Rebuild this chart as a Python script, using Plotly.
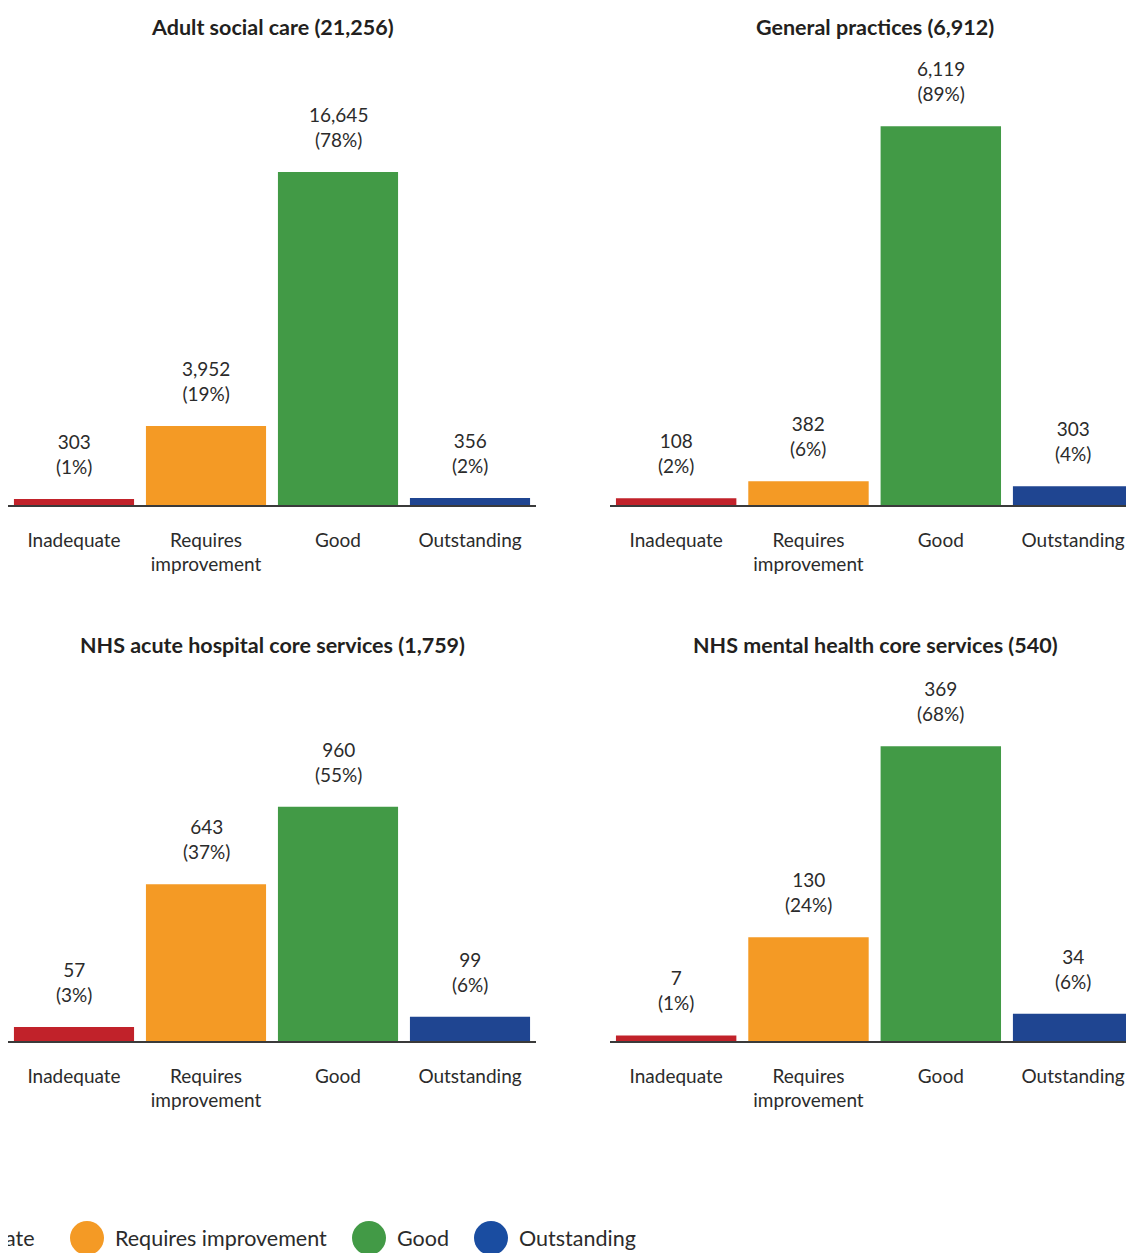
import plotly.graph_objects as go

# The page body has an 8px margin; the figure is sized/offset to fill the window.
OFF = 8
W, H = 1134 - OFF, 1253 - OFF

ratings = ["Inadequate", "Requires improvement", "Good", "Outstanding"]
tick_labels = ["Inadequate", "Requires<br>improvement", "Good", "Outstanding"]
colors = ["#C1222A", "#F49A25", "#429A46", "#1F4591"]
legend_colors = ["#C1222A", "#F49A25", "#429A46", "#1A4DA1"]

titles = [
    "Adult social care (21,256)",
    "General practices (6,912)",
    "NHS acute hospital core services (1,759)",
    "NHS mental health core services (540)",
]
adult_social_care = [303, 3952, 16645, 356]
adult_social_care_pct = ["1%", "19%", "78%", "2%"]
general_practices = [108, 382, 6119, 303]
general_practices_pct = ["2%", "6%", "89%", "4%"]
acute_hospital = [57, 643, 960, 99]
acute_hospital_pct = ["3%", "37%", "55%", "6%"]
mental_health = [7, 130, 369, 34]
mental_health_pct = ["1%", "24%", "68%", "6%"]

panels = [
    (adult_social_care, adult_social_care_pct),
    (general_practices, general_practices_pct),
    (acute_hospital, acute_hospital_pct),
    (mental_health, mental_health_pct),
]

FONT = "Lato"
TXT = "#2b2b2b"

# screen-pixel -> paper helpers
def px_x(v):
    return (v - OFF) / W

def px_y(v):
    return 1 - (v - OFF) / H

x_domains = [[px_x(8), px_x(536)], [px_x(610), 1.0]]
x_ranges = [[-0.5, 3.5], [-0.5, 3.46]]
y_domains = [[px_y(505), px_y(60)], [px_y(1041), px_y(680)]]
y_ranges = [[0, 22250], [0, 7190], [0, 1480], [0, 452]]
title_y = [27, 645]
title_cx = [272, 875]

fig = go.Figure()
annotations = []
shapes = []

for i, (vals, pcts) in enumerate(panels):
    row, col = divmod(i, 2)
    n = "" if i == 0 else str(i + 1)
    xa, ya = "x" + n, "y" + n
    fig.add_trace(go.Bar(
        x=ratings, y=vals, marker=dict(color=colors, line=dict(width=0)),
        width=0.91, xaxis=xa, yaxis=ya, showlegend=False, hoverinfo="skip",
    ))
    fig.layout["xaxis" + n] = dict(
        domain=x_domains[col], range=x_ranges[col], type="category",
        anchor=ya, showline=True, linecolor="#3a3a3a", linewidth=1.5,
        showgrid=False, zeroline=False, ticks="",
        tickmode="array", tickvals=ratings, ticktext=tick_labels,
        tickfont=dict(family=FONT, size=19, color=TXT),
        ticklabelstandoff=17, fixedrange=True,
    )
    fig.layout["yaxis" + n] = dict(
        domain=y_domains[row], range=y_ranges[i], anchor=xa,
        visible=False, fixedrange=True,
    )
    for r, v, p in zip(ratings, vals, pcts):
        annotations.append(dict(
            x=r, y=v, xref=xa, yref=ya, text=f"{v:,}<br>({p})",
            showarrow=False, yanchor="bottom", yshift=19,
            font=dict(family=FONT, size=19, color=TXT),
        ))
    annotations.append(dict(
        x=px_x(title_cx[col]), y=px_y(title_y[row]),
        xref="paper", yref="paper", text=f"<b>{titles[i]}</b>",
        showarrow=False, xanchor="center", yanchor="middle",
        font=dict(family=FONT, size=21.5, color="#231F20"),
    ))

# legend drawn as circles + labels
legend_cx = [-99, 87, 369, 491]
legend_cy = 1238
rad = 17
for r, c, cx in zip(ratings, legend_colors, legend_cx):
    shapes.append(dict(
        type="circle", xref="paper", yref="paper",
        x0=px_x(cx - rad), x1=px_x(cx + rad),
        y0=px_y(legend_cy + rad), y1=px_y(legend_cy - rad),
        fillcolor=c, line=dict(width=0),
    ))
    annotations.append(dict(
        x=px_x(cx + rad + 9), y=px_y(legend_cy), xref="paper", yref="paper",
        text=r, showarrow=False, xanchor="left", yanchor="middle",
        font=dict(family=FONT, size=21.5, color=TXT),
    ))

fig.update_layout(
    width=W, height=H,
    margin=dict(l=0, r=0, t=0, b=0, autoexpand=False),
    paper_bgcolor="white", plot_bgcolor="white",
    bargap=0.09, showlegend=False,
    annotations=annotations, shapes=shapes,
    font=dict(family=FONT, color=TXT),
)

fig.write_html("out.html", config={"displayModeBar": False})
